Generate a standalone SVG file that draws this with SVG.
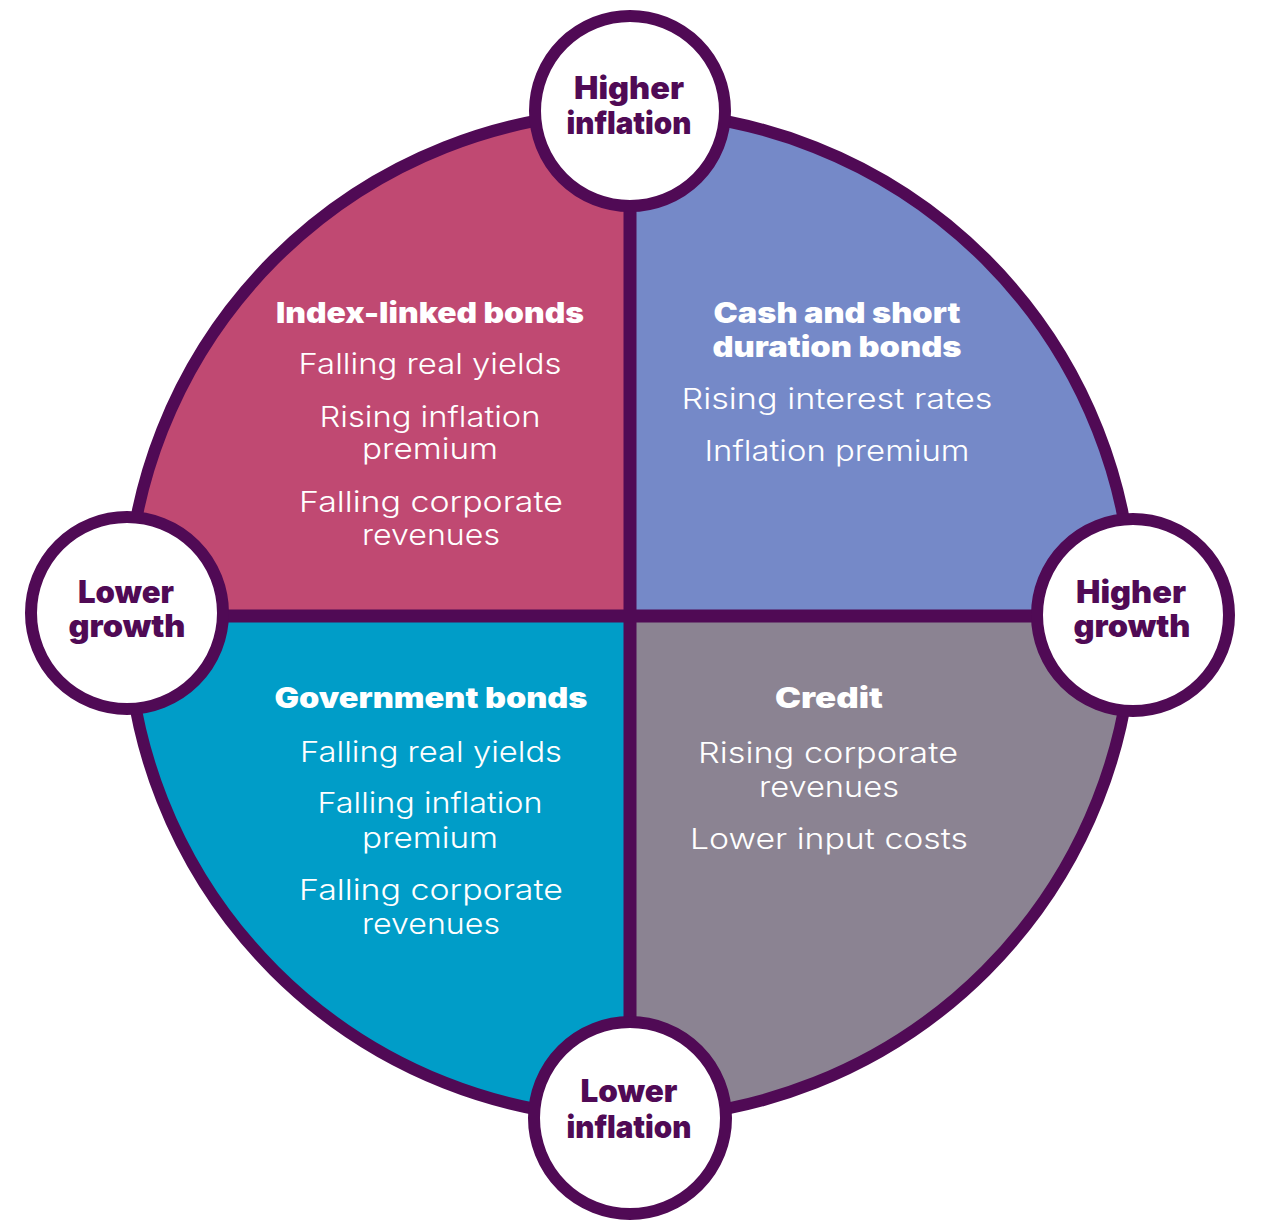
<svg xmlns="http://www.w3.org/2000/svg" width="1262" height="1230" viewBox="0 0 1262 1230">
<style>
.q{stroke:none}
.ring{fill:none;stroke:#500A55;stroke-width:12}
.bar{stroke:#500A55;stroke-width:13}
.node{fill:#fff;stroke:#500A55;stroke-width:12}
.t{font-family:Inter,"Open Sans","Liberation Sans",sans-serif;font-weight:900;font-size:28px;fill:#fff;text-anchor:middle}
.b{font-family:Inter,"Open Sans","Liberation Sans",sans-serif;font-weight:300;font-size:29px;fill:#fff;text-anchor:middle}
.n{font-family:Inter,"Open Sans","Liberation Sans",sans-serif;font-weight:900;font-size:31px;fill:#500A55;text-anchor:middle}
</style>
<rect width="1262" height="1230" fill="#fff"/>
<g id="quadrants">
<path class="q" fill="#C04972" d="M630,615 L127,615 A503,503 0 0 1 630,112 Z"/>
<path class="q" fill="#7589C8" d="M630,615 L630,112 A503,503 0 0 1 1133,615 Z"/>
<path class="q" fill="#8B8392" d="M630,615 L1133,615 A503,503 0 0 1 630,1118 Z"/>
<path class="q" fill="#009DC8" d="M630,615 L630,1118 A503,503 0 0 1 127,615 Z"/>
<circle class="ring" cx="630" cy="615" r="503"/>
</g>
<g id="connectors">
<line class="bar" x1="630" y1="112" x2="630" y2="1118"/>
<line class="bar" x1="127" y1="616" x2="1133" y2="616"/>
</g>
<g id="q-index-linked">
<text class="t" x="430" y="323" textLength="308" lengthAdjust="spacingAndGlyphs">Index-linked bonds</text>
<text class="b" x="430" y="374" textLength="263" lengthAdjust="spacingAndGlyphs">Falling real yields</text>
<text class="b" x="430" y="427" textLength="221" lengthAdjust="spacingAndGlyphs">Rising inflation</text>
<text class="b" x="430" y="459" textLength="136" lengthAdjust="spacingAndGlyphs">premium</text>
<text class="b" x="431" y="512" textLength="264" lengthAdjust="spacingAndGlyphs">Falling corporate</text>
<text class="b" x="431" y="545" textLength="138" lengthAdjust="spacingAndGlyphs">revenues</text>
</g>
<g id="q-cash">
<text class="t" x="837" y="323" textLength="247" lengthAdjust="spacingAndGlyphs">Cash and short</text>
<text class="t" x="837" y="357" textLength="249" lengthAdjust="spacingAndGlyphs">duration bonds</text>
<text class="b" x="837" y="409" textLength="311" lengthAdjust="spacingAndGlyphs">Rising interest rates</text>
<text class="b" x="837" y="461" textLength="265" lengthAdjust="spacingAndGlyphs">Inflation premium</text>
</g>
<g id="q-government">
<text class="t" x="431" y="708" textLength="313" lengthAdjust="spacingAndGlyphs">Government bonds</text>
<text class="b" x="431" y="762" textLength="262" lengthAdjust="spacingAndGlyphs">Falling real yields</text>
<text class="b" x="430" y="813" textLength="225" lengthAdjust="spacingAndGlyphs">Falling inflation</text>
<text class="b" x="430" y="848" textLength="136" lengthAdjust="spacingAndGlyphs">premium</text>
<text class="b" x="431" y="900" textLength="264" lengthAdjust="spacingAndGlyphs">Falling corporate</text>
<text class="b" x="431" y="934" textLength="138" lengthAdjust="spacingAndGlyphs">revenues</text>
</g>
<g id="q-credit">
<text class="t" x="829" y="708" textLength="108" lengthAdjust="spacingAndGlyphs">Credit</text>
<text class="b" x="828" y="763" textLength="260" lengthAdjust="spacingAndGlyphs">Rising corporate</text>
<text class="b" x="829" y="797" textLength="140" lengthAdjust="spacingAndGlyphs">revenues</text>
<text class="b" x="829" y="849" textLength="278" lengthAdjust="spacingAndGlyphs">Lower input costs</text>
</g>
<g id="node-higher-inflation">
<circle class="node" cx="630" cy="111" r="95"/>
<text class="n" x="629" y="99" textLength="110" lengthAdjust="spacingAndGlyphs">Higher</text>
<text class="n" x="629" y="134" textLength="125" lengthAdjust="spacingAndGlyphs">inflation</text>
</g>
<g id="node-lower-growth">
<circle class="node" cx="127" cy="613" r="96"/>
<text class="n" x="126" y="603" textLength="96" lengthAdjust="spacingAndGlyphs">Lower</text>
<text class="n" x="127" y="637" textLength="117" lengthAdjust="spacingAndGlyphs">growth</text>
</g>
<g id="node-higher-growth">
<circle class="node" cx="1133" cy="615" r="96"/>
<text class="n" x="1131" y="603" textLength="110" lengthAdjust="spacingAndGlyphs">Higher</text>
<text class="n" x="1132" y="637" textLength="117" lengthAdjust="spacingAndGlyphs">growth</text>
</g>
<g id="node-lower-inflation">
<circle class="node" cx="630" cy="1118" r="96"/>
<text class="n" x="629" y="1102" textLength="97" lengthAdjust="spacingAndGlyphs">Lower</text>
<text class="n" x="629" y="1138" textLength="125" lengthAdjust="spacingAndGlyphs">inflation</text>
</g>
</svg>
